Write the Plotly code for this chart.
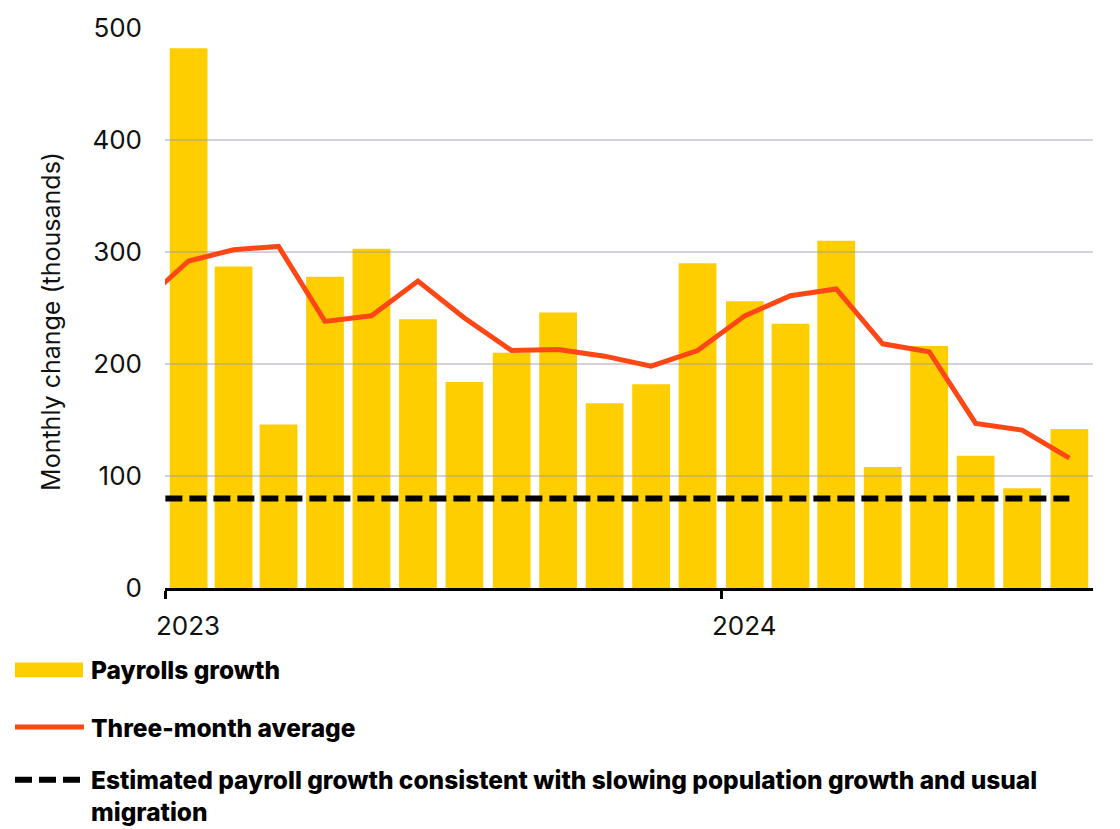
import plotly.graph_objects as go

# Monthly nonfarm payroll change, thousands (Jan 2023 - Aug 2024)
months = [
    "2023-01", "2023-02", "2023-03", "2023-04", "2023-05", "2023-06", "2023-07",
    "2023-08", "2023-09", "2023-10", "2023-11", "2023-12", "2024-01", "2024-02",
    "2024-03", "2024-04", "2024-05", "2024-06", "2024-07", "2024-08",
]
payrolls = [482, 287, 146, 278, 303, 240, 184, 210, 246, 165, 182, 290,
            256, 236, 310, 108, 216, 118, 89, 142]

# Three-month average, starting one month earlier (clipped at the axis edge)
avg_months = ["2022-12"] + months
three_month_avg = [254, 292, 302, 305, 238, 243, 274, 241, 212, 213, 207, 198,
                   212, 243, 261, 267, 218, 211, 147, 141, 116]

# Breakeven payroll growth estimate
breakeven_months = avg_months
breakeven = [80] * len(breakeven_months)

y_ticks = [0, 100, 200, 300, 400, 500]
x_tickvals = ["2023-01-01", "2024-01-01"]
x_ticktext = ["2023", "2024"]
x_range = ["2023-01-01", "2024-09-01"]

legend_labels = [
    "Payrolls growth",
    "Three-month average",
    "Estimated payroll growth consistent with slowing population growth and usual<br>migration",
]

YELLOW = "#FFCE00"
ORANGE = "#FF4716"
FONT = "Inter"

# plot-area geometry in pixels (used to place the hand-built legend)
FIG_W, FIG_H = 1120, 829
L, R, T, B = 165, 1093, 24, 588


def px_x(px):
    return (px - L) / (R - L)


def px_y(py):
    return (B - py) / (B - T)


fig = go.Figure()

fig.add_trace(go.Bar(
    x=months, y=payrolls, xperiod="M1", xperiodalignment="middle",
    marker=dict(color=YELLOW, line=dict(width=0)),
    xaxis="x", yaxis="y", showlegend=False,
))

fig.add_trace(go.Scatter(
    x=avg_months, y=three_month_avg, xperiod="M1", xperiodalignment="middle",
    mode="lines", line=dict(color=ORANGE, width=5),
    xaxis="x2", yaxis="y2", showlegend=False,
))

fig.add_trace(go.Scatter(
    x=breakeven_months, y=breakeven, xperiod="M1", xperiodalignment="middle",
    mode="lines", line=dict(color="#000000", width=6, dash="17px,7px"),
    xaxis="x2", yaxis="y2", showlegend=False,
))

# Legend drawn by hand: symbol shapes plus heavy labels
shapes = [
    dict(type="rect", xref="paper", yref="paper",
         x0=px_x(15), x1=px_x(83), y0=px_y(678), y1=px_y(663),
         fillcolor=YELLOW, line=dict(width=0)),
    dict(type="line", xref="paper", yref="paper",
         x0=px_x(15), x1=px_x(84), y0=px_y(728), y1=px_y(728),
         line=dict(color=ORANGE, width=5)),
    dict(type="line", xref="paper", yref="paper",
         x0=px_x(15), x1=px_x(80), y0=px_y(781), y1=px_y(781),
         line=dict(color="#000000", width=6, dash="17px,7px")),
]

legend_font = dict(family=FONT, size=24.5, color="#000000", weight=800)
legend_rows = [(671, "middle"), (729, "middle"), (764, "top")]
annotations = [
    dict(text=label, xref="paper", yref="paper",
         x=px_x(89), y=px_y(row), xanchor="left", yanchor=anchor,
         align="left", showarrow=False, font=legend_font)
    for label, (row, anchor) in zip(legend_labels, legend_rows)
]
annotations.append(
    dict(text="Monthly change (thousands)", xref="paper", yref="paper",
         x=px_x(51), y=px_y(320), xanchor="center", yanchor="middle",
         textangle=-90, showarrow=False,
         font=dict(family=FONT, size=25, color="#111111"))
)

fig.update_layout(
    width=FIG_W, height=FIG_H,
    margin=dict(l=L, r=FIG_W - R, t=T, b=FIG_H - B),
    paper_bgcolor="#ffffff", plot_bgcolor="rgba(0,0,0,0)",
    bargap=0.16,
    showlegend=False,
    font=dict(family=FONT, size=26, color="#111111"),
    xaxis=dict(
        type="date", range=x_range, domain=[0, 1], anchor="y",
        showgrid=False, showline=False, zeroline=False,
        showticklabels=False, ticks="",
    ),
    yaxis=dict(
        range=[0, 500], domain=[0, 1], anchor="x",
        tickvals=y_ticks, showgrid=False, zeroline=False, showline=False,
        ticks="", ticklabelstandoff=22,
        tickfont=dict(family=FONT, size=26, color="#111111"),
    ),
    xaxis2=dict(
        type="date", range=x_range, domain=[0, 1], anchor="y2", matches="x",
        showgrid=False, zeroline=False,
        showline=True, linecolor="#000000", linewidth=3,
        tickvals=x_tickvals, ticktext=x_ticktext,
        ticks="outside", ticklen=8, tickwidth=3, tickcolor="#000000",
        ticklabelshift=23, ticklabelstandoff=5,
        tickfont=dict(family=FONT, size=26, color="#111111"),
    ),
    yaxis2=dict(
        range=[0, 500], domain=[0, 1], anchor="x2", matches="y",
        tickvals=y_ticks[1:], showticklabels=False, ticks="",
        showgrid=True, gridcolor="rgba(150,150,172,0.42)", gridwidth=2,
        zeroline=False, showline=False,
    ),
    shapes=shapes,
    annotations=annotations,
)

fig.write_html("out.html")
